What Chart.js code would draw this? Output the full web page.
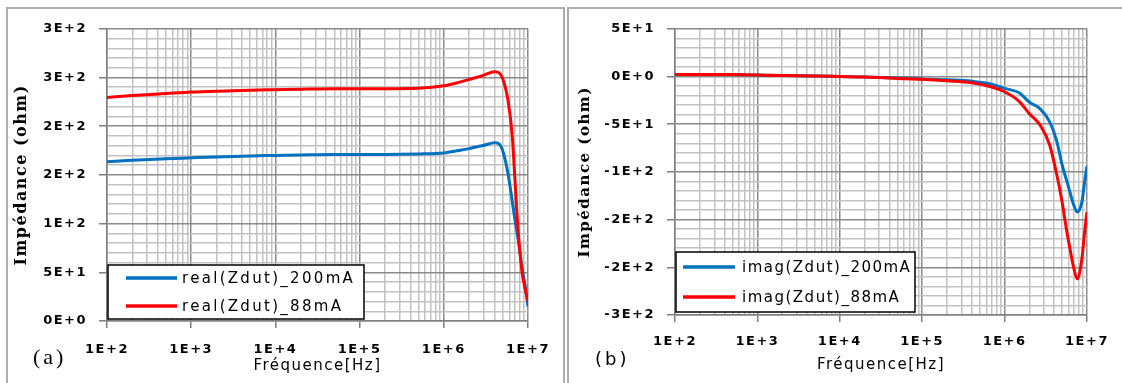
<!DOCTYPE html>
<html>
<head>
<meta charset="utf-8">
<script src="https://cdn.jsdelivr.net/npm/chart.js@4"></script>
<style>
  body { margin: 0; background: #fff; width: 1122px; height: 383px; overflow: hidden; position: relative; }
  .frame { position: absolute; border: 2px solid #adadad; box-sizing: border-box; }
  canvas { position: absolute; }
  .tag { position: absolute; line-height: 1; color: #000; }
</style>
</head>
<body>
<div class="frame" style="left:6px; top:7px; width:559px; height:400px"></div>
<div class="frame" style="left:567px; top:7px; width:600px; height:400px"></div>
<canvas id="chartA" width="556" height="374" style="left:8px; top:9px"></canvas>
<canvas id="chartB" width="553" height="374" style="left:569px; top:9px"></canvas>
<div class="tag" style="left:33px; top:344px; font:22px 'Liberation Serif'; letter-spacing:3px">(a)</div>
<div class="tag" style="left:595px; top:348px; font:18px 'DejaVu Sans'; letter-spacing:3px">(b)</div>
<script>
// (a) partie réelle, fréquences en Hz
const freqA = [1e2, 2e2, 5e2, 1e3, 2e3, 5e3, 1e4, 2e4, 5e4, 1e5, 2e5, 5e5, 1e6, 1.5e6, 2e6, 3e6, 4e6, 4.5e6, 5e6, 5.8e6, 6.5e6, 7e6, 7.6e6, 8.5e6, 9.3e6, 1e7];
const real200 = [163.5, 165, 166.5, 167.5, 168.5, 169.5, 170, 170.5, 171, 171, 171, 171.5, 172.5, 175, 177, 180.5, 183, 182, 175, 151, 123, 104, 85, 55, 35, 15];
const real88 = [229.5, 231.5, 233.5, 235, 236, 237, 237.5, 238, 238.5, 238.5, 238.5, 239, 241.5, 245, 248, 252.5, 256, 255, 249, 226, 190, 145, 95, 50, 32, 20];

// (b) partie imaginaire
const freqB = [1e2, 2e2, 5e2, 1e3, 2e3, 5e3, 1e4, 2e4, 5e4, 1e5, 2e5, 4e5, 7e5, 1e6, 1.5e6, 2e6, 2.7e6, 3.5e6, 4.3e6, 5e6, 5.7e6, 6.2e6, 6.8e6, 7.6e6, 8.7e6, 9.3e6, 1e7];
const imag200 = [2, 2, 2, 1.5, 1, 0.5, 0, -0.5, -1.5, -2.5, -3.5, -5, -8, -12.5, -17, -27, -34, -47, -68, -93, -110, -121, -133, -142, -131, -112, -94];
const imag88 = [2, 2, 2, 1.5, 1, 0.5, 0, -0.5, -2, -3, -4.5, -6.5, -11, -16, -26, -39, -51, -71, -103, -132, -163, -180, -198, -212, -190, -165, -142];

const namesA = ['real(Zdut)_200mA', 'real(Zdut)_88mA'];
const namesB = ['imag(Zdut)_200mA', 'imag(Zdut)_88mA'];
const decades = [2, 3, 4, 5, 6];
const rangeA = [0, 300];
const rangeB = [-250, 50];

const BLUE = '#0070c0';
const RED = '#ff0000';

// grille log : 1..9 par décade
const logTicks = [];
decades.forEach(e => { for (let m = 1; m <= 9; m++) logTicks.push(m * Math.pow(10, e)); });
logTicks.push(1e7);

const isDecade = v => Math.abs(Math.log10(v) - Math.round(Math.log10(v))) < 1e-6;
const isMajorY = v => Math.round(v) % 50 === 0;
const sci = v => v.toExponential(0).toUpperCase();

const spacing = {
  id: 'spacing',
  beforeUpdate(chart) { chart.ctx.letterSpacing = '1.5px'; },
  beforeDraw(chart) { chart.ctx.letterSpacing = '1.5px'; }
};

const boxLegend = {
  id: 'boxLegend',
  afterDraw(chart, args, o) {
    const { ctx, chartArea } = chart;
    const x = chartArea.left + o.x;
    const y = chartArea.bottom - o.bottom - o.h;
    ctx.save();
    ctx.fillStyle = '#fff';
    ctx.fillRect(x, y, o.w, o.h);
    ctx.lineWidth = 1.5;
    ctx.strokeStyle = '#000';
    ctx.strokeRect(x, y, o.w, o.h);
    ctx.font = '15px "DejaVu Sans"';
    ctx.letterSpacing = o.ls;
    ctx.textBaseline = 'middle';
    chart.data.datasets.forEach((ds, i) => {
      const ly = y + o.rows[i];
      ctx.strokeStyle = ds.borderColor;
      ctx.lineWidth = 3.5;
      ctx.beginPath();
      ctx.moveTo(x + o.line[0], ly);
      ctx.lineTo(x + o.line[1], ly);
      ctx.stroke();
      ctx.fillStyle = '#000';
      ctx.fillText(ds.label, x + o.text, ly + 1);
    });
    ctx.restore();
  }
};

function buildChart(id, freq, blue, red, names, range, geo) {
  return new Chart(document.getElementById(id), {
    type: 'line',
    data: {
      datasets: [
        { label: names[0], data: freq.map((f, i) => ({ x: f, y: blue[i] })), borderColor: BLUE, order: 2 },
        { label: names[1], data: freq.map((f, i) => ({ x: f, y: red[i] })), borderColor: RED, order: 1 },
      ],
    },
    options: {
      responsive: false,
      animation: false,
      layout: { padding: { top: 18, right: geo.right, left: 0, bottom: 0 } },
      elements: {
        point: { radius: 0 },
        line: { borderWidth: 3, cubicInterpolationMode: 'monotone' },
      },
      plugins: {
        legend: { display: false },
        tooltip: { enabled: false },
        boxLegend: geo.legend,
      },
      scales: {
        x: {
          type: 'logarithmic',
          min: 100,
          max: 1e7,
          afterBuildTicks: axis => { axis.ticks = logTicks.map(v => ({ value: v })); },
          afterFit: axis => { axis.height = geo.bottom; },
          ticks: {
            autoSkip: false,
            maxRotation: 0,
            minRotation: 0,
            padding: geo.xPad,
            color: '#000',
            font: { family: 'DejaVu Sans', weight: 'bold', size: 13 },
            callback: v => isDecade(v) ? '1E+' + Math.round(Math.log10(v)) : '',
          },
          grid: {
            color: c => isDecade(c.tick.value) ? '#8a8a8a' : '#c2c2c2',
            lineWidth: 1.5,
            tickLength: 7,
            tickColor: c => isDecade(c.tick.value) ? '#7f7f7f' : 'rgba(0,0,0,0)',
          },
          border: { color: '#7f7f7f', width: 1.5 },
          title: {
            display: true,
            text: 'Fréquence[Hz]',
            color: '#000',
            font: { family: 'DejaVu Sans', size: 15 },
            padding: { top: 0, bottom: geo.xTitlePad },
          },
        },
        y: {
          min: range[0],
          max: range[1],
          afterFit: axis => { axis.width = geo.left; },
          ticks: {
            stepSize: 10,
            autoSkip: false,
            padding: 12,
            color: '#000',
            font: { family: 'DejaVu Sans', weight: 'bold', size: 13 },
            callback: v => isMajorY(v) ? sci(v) : '',
          },
          grid: {
            color: c => isMajorY(c.tick.value) ? '#8a8a8a' : '#c2c2c2',
            lineWidth: 1.5,
            tickLength: 8,
            tickColor: c => isMajorY(c.tick.value) ? '#7f7f7f' : 'rgba(0,0,0,0)',
          },
          border: { color: '#7f7f7f', width: 1.5 },
          title: {
            display: true,
            text: 'Impédance (ohm)',
            color: '#000',
            font: { family: 'DejaVu Serif', weight: 'bold', size: geo.yTitleSize },
            padding: { top: geo.yTitlePad, bottom: 0 },
          },
        },
      },
    },
    plugins: [spacing, boxLegend],
  });
}

buildChart('chartA', freqA, real200, real88, namesA, rangeA, {
  left: 99, right: 36, bottom: 62, xPad: 14, xTitlePad: 8, yTitlePad: 4, yTitleSize: 16,
  legend: { x: 1, w: 256, h: 54, bottom: 2, rows: [13, 41], line: [18, 69], text: 74, ls: '2.3px' },
});
buildChart('chartB', freqB, imag200, imag88, namesB, rangeB, {
  left: 106, right: 35, bottom: 68, xPad: 12, xTitlePad: 9, yTitlePad: 7, yTitleSize: 15,
  legend: { x: 1, w: 239, h: 60, bottom: 3, rows: [15, 45], line: [7, 59], text: 66, ls: '1.5px' },
});
</script>
</body>
</html>
